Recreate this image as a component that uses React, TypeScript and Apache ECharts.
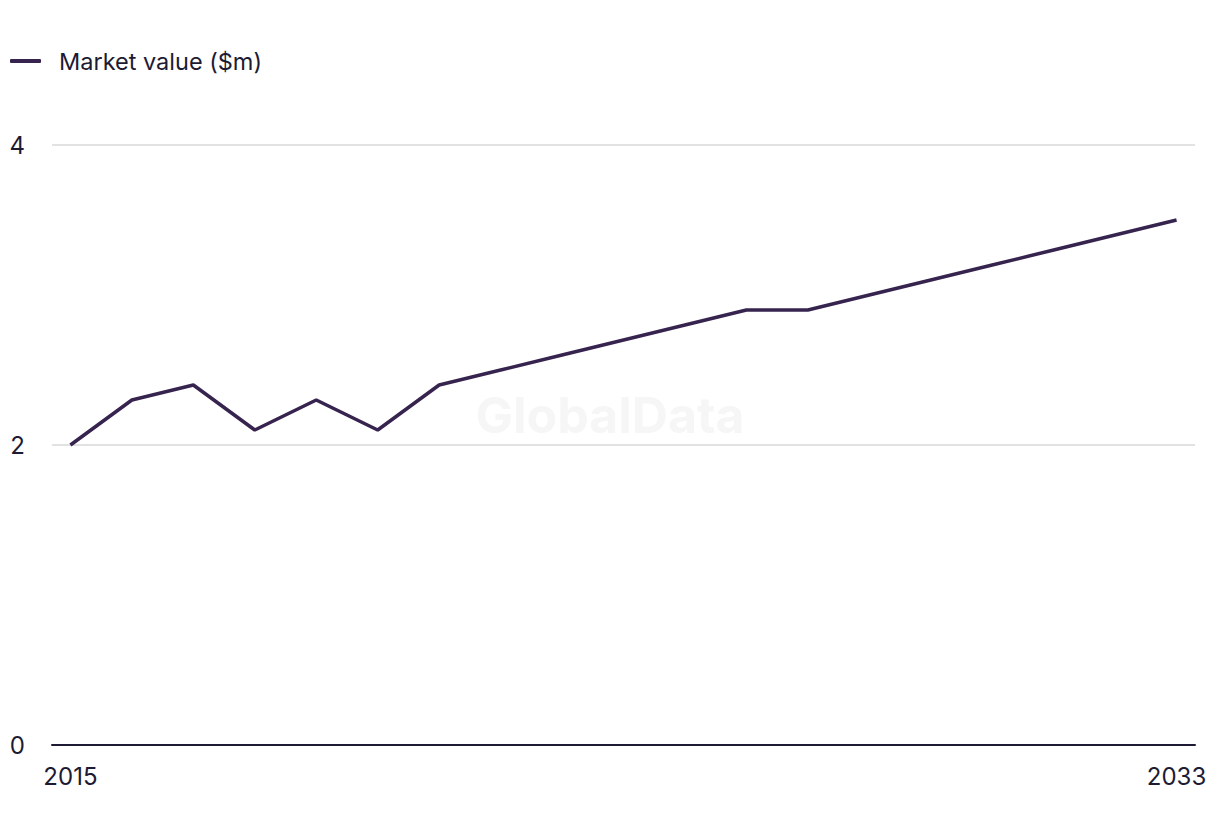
import React, { useEffect, useRef } from "react";
import * as echarts from "echarts";

const years = [2015, 2016, 2017, 2018, 2019, 2020, 2021, 2022, 2023, 2024, 2025, 2026, 2027, 2028, 2029, 2030, 2031, 2032, 2033];
const marketValue = [2.0, 2.3, 2.4, 2.1, 2.3, 2.1, 2.4, 2.5, 2.6, 2.7, 2.8, 2.9, 2.9, 3.0, 3.1, 3.2, 3.3, 3.4, 3.5];
const xTickLabels = [2015, 2033];
const seriesName = "Market value ($m)";

const FONT = "Inter, 'Noto Sans', sans-serif";
const TEXT = "#1c1b33";

export default function App() {
  const ref = useRef<HTMLDivElement>(null);
  useEffect(() => {
    if (!ref.current) return;
    const chart = echarts.init(ref.current, null, { renderer: "svg" });
    chart.setOption({
      animation: false,
      backgroundColor: "#ffffff",
      textStyle: { fontFamily: FONT },
      legend: {
        left: 10,
        top: 49,
        padding: 0,
        icon: "roundRect",
        itemWidth: 31,
        itemHeight: 4,
        textStyle: { fontSize: 23.5, color: TEXT, fontFamily: FONT, padding: [0, 0, 0, 13] },
        data: [seriesName],
      },
      graphic: [
        {
          type: "text",
          left: "center",
          top: 390,
          z: 0,
          style: {
            text: "GlobalData",
            font: "bold 50px " + FONT,
            fill: "#f6f6f6",
          },
        },
      ],
      grid: { left: 52, right: 25, top: 145, bottom: 91 },
      xAxis: {
        type: "value",
        min: 2014.7,
        max: 2033.3,
        splitLine: { show: false },
        axisTick: { show: false },
        axisLine: { show: true, lineStyle: { color: "#1c1b33", width: 2 } },
        axisLabel: {
          customValues: xTickLabels,
          fontSize: 24,
          color: TEXT,
          margin: 19,
          formatter: (v: number) => String(v),
        },
      },
      yAxis: {
        type: "value",
        min: 0,
        max: 4,
        interval: 2,
        axisLine: { show: false },
        axisTick: { show: false },
        splitLine: { lineStyle: { color: "#d9d9d9", width: 1.5 } },
        axisLabel: { fontSize: 24, color: TEXT, margin: 27 },
      },
      series: [
        {
          name: seriesName,
          type: "line",
          data: years.map((y, i) => [y, marketValue[i]]),
          showSymbol: false,
          symbol: "none",
          lineStyle: { color: "#36244f", width: 3.5 },
          itemStyle: { color: "#36244f" },
          z: 3,
        },
      ],
    });
    return () => chart.dispose();
  }, []);
  return <div ref={ref} style={{ position: "fixed", left: 0, top: 0, width: 1220, height: 836 }} />;
}
